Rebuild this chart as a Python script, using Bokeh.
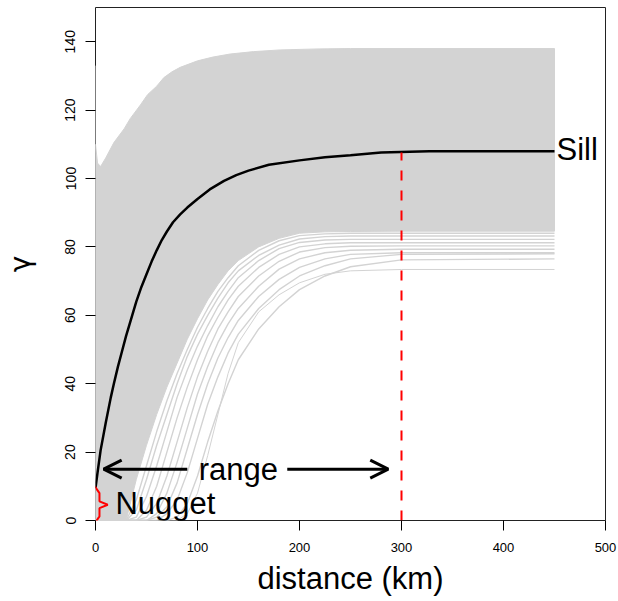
from bokeh.plotting import figure
from bokeh.models import FixedTicker, Range1d, Arrow, OpenHead, Label
from bokeh.embed import file_html
from bokeh.resources import INLINE

# ---- data ----
# upper envelope of the bundle of simulated variograms
upper_h = [0, 2, 5, 10, 18, 28, 34, 44, 51, 60, 67, 75, 83, 100, 115, 132, 155, 181, 220, 250, 450]
upper_v = [110, 104.5, 103.5, 106, 110.5, 114.5, 117.5, 121.5, 124.5, 127, 129.5, 131.2, 132.5,
           134.4, 135.5, 136.4, 137.1, 137.6, 137.9, 138, 138]
# shared distance grid for the lower part of the bundle
grid_h = [0, 30, 40, 50, 60, 70, 80, 90, 100, 110, 120, 130, 140, 160, 180, 200, 225, 250, 300, 450]
# lower edge of the dense core of the bundle
core_v = [0, 0, 12, 22, 31, 39, 46, 53, 59, 64.5, 69, 73, 76, 80, 82.5, 84, 84.4, 84.5, 84.6, 84.6]
# left-edge gray stroke
edge_h = [0, 0]
edge_v = [0, 133]
# individual simulated curves below the dense core
sim_1 = [0, 0, 6, 16, 26, 35, 43, 50, 56.5, 62, 67, 71, 74.5, 79, 81.8, 83.3, 83.8, 84, 84, 84]
sim_2 = [0, 0, 3, 12, 22, 31, 40, 48, 54.5, 60, 65, 69.5, 73, 77.5, 80.5, 82.3, 83, 83.2, 83.2, 83.2]
sim_3 = [0, 0, 1, 7, 16, 26, 36, 44, 51, 57, 62.5, 67, 71, 76, 79.5, 81.3, 82, 82.2, 82.2, 82.2]
sim_4 = [0, 0, 0, 3, 10, 20, 30, 39, 47, 54, 59.5, 64.5, 68.5, 74, 77.8, 80, 80.9, 81.2, 81.2, 81.2]
sim_5 = [0, 0, 0, 1, 5, 13, 23, 33, 42, 49.5, 56, 61, 65.5, 71.5, 75.8, 78.5, 79.8, 80.2, 80.3, 80.3]
sim_6 = [0, 0, 0, 0, 2, 8, 17, 27, 37, 45, 52, 57.5, 62, 68.5, 73.5, 76.5, 78.3, 79, 79.3, 79.3]
sim_7 = [0, 0, 0, 0, 1, 4, 11, 21, 31, 40, 47.5, 53.5, 58.5, 65.5, 70.5, 74, 76.5, 77.8, 78.3, 78.3]
sim_8 = [0, 0, 0, 0, 0, 2, 6, 14, 24, 34, 42, 49, 54.5, 62, 67.5, 71.5, 74.5, 76.5, 77.8, 78]
sim_9 = [0, 0, 0, 0, 0, 0, 1, 5, 13, 23, 32, 40, 47, 56, 62.5, 67.5, 71.5, 74.2, 76.2, 76.5]
sim_outer = [0, 0, 0, 0, 0, 0, 0, 2, 8, 19, 31, 43, 52, 61, 66, 69.5, 72, 73, 73.4, 73.4]
# fitted variogram (black)
fit_h = [0, 2, 5, 10, 15, 18, 22, 26, 30, 33, 37, 40, 45, 50, 55, 60, 65, 70, 76, 83, 90, 100,
         112, 126, 138, 150, 170, 200, 225, 250, 280, 327, 450]
fit_v = [9.5, 14, 20.5, 28.5, 36, 40, 45, 49.5, 54, 57, 61, 64, 68.3, 72, 75.7, 79, 82, 84.5,
         87.2, 89.5, 91.5, 94, 96.8, 99.3, 101, 102.3, 104, 105.3, 106.2, 106.8, 107.6, 108, 108]
# range marker
range_km = 300
range_top = 107.6
# nugget brace
brace_h = [-0.7, 3.9, 3.9, 12, 3.9, 3.9, -0.7]
brace_v = [10, 8, 5.6, 4.6, 3.6, 1.2, -0.8]
x_ticks = [0, 100, 200, 300, 400, 500]
y_ticks = [0, 20, 40, 60, 80, 100, 120, 140]

GRAY = "#d3d3d3"
FONT = "Liberation Sans"

p = figure(width=618, height=601, output_backend="svg", toolbar_location=None,
           x_range=Range1d(0, 500), y_range=Range1d(0, 150),
           min_border_left=95, min_border_right=13, min_border_top=7, min_border_bottom=81)
p.background_fill_color = "white"
p.border_fill_color = "white"
p.outline_line_color = "#222222"
p.outline_line_width = 1
p.grid.visible = False

# bundle
p.patch(upper_h + grid_h[::-1], upper_v + core_v[::-1], fill_color=GRAY, line_color=GRAY, line_width=1)
p.line(edge_h, edge_v, line_color=GRAY, line_width=1)
for s in [sim_1, sim_2, sim_3, sim_4, sim_5, sim_6, sim_7, sim_8, sim_9]:
    p.line(grid_h, s, line_color=GRAY, line_width=1.4)
p.line(grid_h, sim_outer, line_color=GRAY, line_width=1)

# fitted
p.line(fit_h, fit_v, line_color="black", line_width=2.5)
# range dashed
p.segment(x0=[range_km], y0=[0], x1=[range_km], y1=[range_top], line_color="#ff0000",
          line_width=2, line_dash="10 10")
# brace
p.line(brace_h, brace_v, line_color="#ff0000", line_width=2)

# arrows
p.add_layout(Arrow(x_start=90, y_start=15, x_end=8, y_end=15, line_width=3, line_color="black",
                   end=OpenHead(size=18, line_width=3, line_color="black")))
p.add_layout(Arrow(x_start=188, y_start=15, x_end=287, y_end=15, line_width=3, line_color="black",
                   end=OpenHead(size=18, line_width=3, line_color="black")))

p.add_layout(Label(x=140, y=15, text="range", text_font=FONT, text_font_size="31px",
                   text_align="center", text_baseline="middle", text_color="black"))
p.add_layout(Label(x=19.5, y=5, text="Nugget", text_font=FONT, text_font_size="31px",
                   text_align="left", text_baseline="middle", text_color="black"))
p.add_layout(Label(x=452, y=108.5, text="Sill", text_font=FONT, text_font_size="31px",
                   text_align="left", text_baseline="middle", text_color="black"))

# axes
p.xaxis.ticker = FixedTicker(ticks=x_ticks)
p.yaxis.ticker = FixedTicker(ticks=y_ticks)
for ax in (p.xaxis, p.yaxis):
    ax.axis_line_color = None
    ax.major_tick_out = 10
    ax.major_tick_in = 0
    ax.major_tick_line_color = "black"
    ax.minor_tick_line_color = None
    ax.major_label_text_font = FONT
    ax.major_label_text_color = "black"
    ax.axis_label_text_font = FONT
    ax.axis_label_text_font_style = "normal"
    ax.axis_label_text_color = "black"
p.xaxis.major_label_text_font_size = "13px"
p.yaxis.major_label_text_font_size = "14px"
p.xaxis.major_label_standoff = 12
p.yaxis.major_label_standoff = 10
p.yaxis.major_label_orientation = "vertical"
p.xaxis.axis_label = "distance (km)"
p.xaxis.axis_label_text_font_size = "31px"
p.xaxis.axis_label_standoff = 6
p.yaxis.axis_label = "γ"
p.yaxis.axis_label_text_font = "DejaVu Sans"
p.yaxis.axis_label_text_font_size = "28px"
p.yaxis.axis_label_standoff = 26

open("out.html", "w").write(file_html(p, INLINE))
